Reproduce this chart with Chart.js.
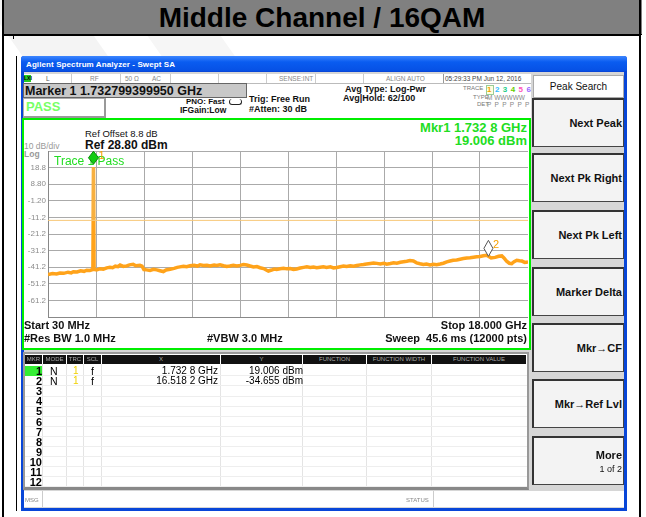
<!DOCTYPE html>
<html><head><meta charset="utf-8">
<script src="https://cdn.jsdelivr.net/npm/chart.js@4.4.0/dist/chart.umd.min.js"></script>
<style>
body{margin:0;width:646px;height:517px;overflow:hidden;background:#fff;font-family:"Liberation Sans",Arial,sans-serif;position:relative}
.a{position:absolute;white-space:nowrap}
.sk{position:absolute;left:532px;width:89px;height:46px;background:#f3f3f3;border:1px solid #444;border-top:2px solid #333;border-left:2px solid #333}
.skt{position:absolute;right:1px;font-weight:bold;font-size:11px;color:#111}
.st{position:absolute;top:75px;height:8px;font-size:6.5px;color:#888;line-height:8px}
.cell{position:absolute;font-size:10px;line-height:10px}
</style></head><body>
<!-- background watermark -->
<div class="a" style="left:40px;top:-60px;width:70px;height:260px;background:#f4f4f4;transform:rotate(-35deg)"></div>
<div class="a" style="left:150px;top:-80px;width:60px;height:220px;background:#f6f6f6;transform:rotate(-35deg)"></div>
<!-- page frame -->
<div class="a" style="left:2px;top:0;width:640px;height:34px;background:#808080;border-bottom:1px solid #000;text-align:center;font-weight:bold;font-size:28px;line-height:35px;color:#000">Middle Channel / 16QAM</div>
<div class="a" style="left:2px;top:0;width:2px;height:517px;background:#000"></div>
<div class="a" style="left:639px;top:0;width:2px;height:517px;background:#000"></div>
<div class="a" style="left:2px;top:35px;width:639px;height:1px;background:#000"></div>
<div class="a" style="left:13px;top:35px;width:1px;height:4px;background:#000"></div>
<div class="a" style="left:16px;top:56px;width:1px;height:455px;background:#000"></div>
<!-- analyzer window -->
<div class="a" style="left:21px;top:56px;width:606px;height:455px;background:#0846d8;border-radius:3px 3px 0 0"></div>
<div class="a" style="left:21px;top:56px;width:606px;height:15px;background:linear-gradient(#3d86ff,#0a5cf0 40%,#0650e4);border-radius:3px 3px 0 0"></div>
<div class="a" style="left:26px;top:60px;font-size:8px;font-weight:bold;color:#fff;letter-spacing:0.1px">Agilent Spectrum Analyzer - Swept SA</div>
<div class="a" style="left:24px;top:72px;width:600px;height:436px;background:#d6d6d6"></div>
<!-- status row -->
<div class="a" style="left:24px;top:74px;width:507px;height:9px;background:#fff;border-bottom:1px solid #bbb"></div>
<div class="a" style="left:24px;top:75px;width:7px;height:7px;background:#22cc22;font-size:5px;line-height:7px;color:#000;font-weight:bold">LXI</div>
<div class="st" style="left:46px;color:#555">L</div>
<div class="st" style="left:90px">RF</div>
<div class="st" style="left:125px">50 Ω</div>
<div class="st" style="left:152px">AC</div>
<div class="st" style="left:279px">SENSE:INT</div>
<div class="st" style="left:386px">ALIGN AUTO</div>
<div class="st" style="left:445px;color:#444">05:29:33 PM Jun 12, 2016</div>
<div class="a" style="left:71px;top:74px;width:1px;height:9px;background:#ccc"></div>
<div class="a" style="left:120px;top:74px;width:1px;height:9px;background:#ccc"></div>
<div class="a" style="left:170px;top:74px;width:1px;height:9px;background:#ccc"></div>
<div class="a" style="left:218px;top:74px;width:1px;height:9px;background:#ccc"></div>
<div class="a" style="left:266px;top:74px;width:1px;height:9px;background:#ccc"></div>
<div class="a" style="left:315px;top:74px;width:1px;height:9px;background:#ccc"></div>
<div class="a" style="left:363px;top:74px;width:1px;height:9px;background:#ccc"></div>
<div class="a" style="left:443px;top:74px;width:1px;height:9px;background:#999"></div>
<!-- info area -->
<div class="a" style="left:24px;top:84px;width:507px;height:34px;background:#fff"></div>
<div class="a" style="left:23px;top:83px;width:222px;height:13px;background:#c8c8c8;border:1px solid #666"></div>
<div class="a" style="left:25px;top:84px;font-size:12.5px;font-weight:bold;line-height:14px;color:#111">Marker 1 1.732799399950 GHz</div>
<div class="a" style="left:23px;top:98px;width:80px;height:17px;background:#fff;border:1px solid #aaa;border-right:2px solid #999;border-bottom:2px solid #999"></div>
<div class="a" style="left:26px;top:100px;font-size:13px;font-weight:bold;color:#77ff66;line-height:13px">PASS</div>
<div class="a" style="left:186px;top:97px;font-size:8px;font-weight:bold;line-height:9px;color:#111">PNO: Fast</div>
<div class="a" style="left:180px;top:106px;font-size:8.5px;font-weight:bold;line-height:9px;color:#111">IFGain:Low</div>
<div class="a" style="left:229px;top:99px;width:11px;height:5px;border:1px solid #222;border-radius:3px;border-top:none"></div>
<div class="a" style="left:249px;top:95px;font-size:9px;font-weight:bold;line-height:9px;color:#111">Trig: Free Run</div>
<div class="a" style="left:249px;top:105px;font-size:9px;font-weight:bold;line-height:9px;color:#111">#Atten: 30 dB</div>
<div class="a" style="left:345px;top:85px;font-size:9px;font-weight:bold;line-height:9px;color:#111">Avg Type: Log-Pwr</div>
<div class="a" style="left:343px;top:94px;font-size:9px;font-weight:bold;line-height:9px;color:#111">Avg|Hold: 62/100</div>
<div class="a" style="left:463px;top:85px;font-size:6px;color:#777;line-height:7px">TRACE</div>
<div class="a" style="left:473px;top:94px;font-size:6px;color:#777;line-height:7px">TYPE</div>
<div class="a" style="left:477px;top:101px;font-size:6px;color:#777;line-height:7px">DET</div>
<div class="a" style="left:486px;top:85px;width:6px;height:8px;border:1px solid #9c9;background:#ffffe0"></div>
<div class="a" style="left:487px;top:85px;font-size:8px;font-weight:bold;line-height:9px;letter-spacing:0.6px"><span style="color:#f0a000">1</span> <span style="color:#33bbff">2</span> <span style="color:#22cc88">3</span> <span style="color:#66cc00">4</span> <span style="color:#ff55bb">5</span> <span style="color:#9966ff">6</span></div>
<div class="a" style="left:487px;top:94px;font-size:6.5px;color:#888;line-height:7px">M WWWWW</div>
<div class="a" style="left:487px;top:101px;font-size:6.5px;color:#888;line-height:7px;letter-spacing:0.8px">P P P P P P</div>
<!-- plot frame -->
<div class="a" style="left:22px;top:118px;width:505px;height:228px;background:#fff;border:2px solid #00ee00"></div>
<div class="a" style="left:85px;top:129px;font-size:9.5px;color:#111;line-height:10px">Ref Offset 8.8 dB</div>
<div class="a" style="left:85px;top:139px;font-size:12px;font-weight:bold;color:#111;line-height:12px">Ref 28.80 dBm</div>
<div class="a" style="left:24px;top:142px;font-size:8.5px;color:#999;line-height:9px">10 dB/div</div>
<div class="a" style="left:24px;top:150px;font-size:8.5px;color:#999;font-weight:bold;line-height:9px">Log</div>
<div class="a" style="right:119px;top:121px;font-size:13px;font-weight:bold;color:#22dd22;line-height:13px;text-align:right">Mkr1 1.732 8 GHz</div>
<div class="a" style="right:119px;top:134px;font-size:13px;font-weight:bold;color:#22dd22;line-height:13px;text-align:right">19.006 dBm</div>
<canvas id="c" class="a" style="left:20px;top:141px" width="508" height="186"></canvas>
<div class="a" style="left:24px;top:320px;font-size:11px;font-weight:bold;line-height:11px;color:#111">Start 30 MHz</div>
<div class="a" style="right:119px;top:320px;font-size:11px;font-weight:bold;line-height:11px;color:#111">Stop 18.000 GHz</div>
<div class="a" style="left:24px;top:333px;font-size:11px;font-weight:bold;line-height:11px;color:#111">#Res BW 1.0 MHz</div>
<div class="a" style="left:207px;top:333px;font-size:11px;font-weight:bold;line-height:11px;color:#111">#VBW 3.0 MHz</div>
<div class="a" style="right:119px;top:333px;font-size:11px;font-weight:bold;line-height:11px;color:#111">Sweep&nbsp; 45.6 ms (12000 pts)</div>
<!-- marker table -->
<div id="tbl" class="a" style="left:23px;top:352px;width:502px;height:133px;background:#fff;border:2px solid #999;border-bottom:3px solid #888"></div>
<!-- msg bar -->
<div class="a" style="left:24px;top:491px;width:600px;height:16px;background:#fff"></div>
<div class="a" style="left:25px;top:497px;font-size:6px;color:#888">MSG</div>
<div class="a" style="left:42px;top:491px;width:1px;height:16px;background:#ccc"></div>
<div class="a" style="left:406px;top:497px;font-size:6px;color:#888">STATUS</div>
<div class="a" style="left:433px;top:491px;width:1px;height:16px;background:#ccc"></div>
<!-- softkeys -->
<div class="a" style="left:533px;top:75px;width:89px;height:21px;background:#fff;border:1px solid #aaa;text-align:center;font-size:10px;line-height:21px;color:#111">Peak Search</div>
<div id="keys"></div>
<script>
// ---- data ----
const traceFreqGHz = [0.03,0.20,0.35,0.48,0.62,0.78,0.90,0.98,1.12,1.25,1.38,1.48,1.60,1.71,1.7328,1.755,1.85,1.98,2.10,2.23,2.35,2.45,2.55,2.65,2.73,2.85,2.98,3.08,3.22,3.32,3.47,3.55,3.62,3.72,3.85,3.98,4.10,4.22,4.35,4.45,4.60,4.75,4.87,4.97,5.10,5.22,5.35,5.50,5.62,5.72,5.85,5.98,6.10,6.25,6.35,6.47,6.60,6.72,6.84,6.97,7.10,7.22,7.35,7.47,7.60,7.72,7.85,7.97,8.10,8.20,8.28,8.40,8.50,8.59,8.72,8.85,8.97,9.10,9.22,9.34,9.47,9.60,9.72,9.85,9.97,10.09,10.22,10.34,10.46,10.60,10.72,10.84,10.97,11.09,11.21,11.35,11.47,11.59,11.72,11.84,11.96,12.10,12.22,12.34,12.47,12.60,12.71,12.85,12.97,13.09,13.22,13.34,13.46,13.58,13.71,13.83,13.96,14.08,14.20,14.33,14.46,14.58,14.71,14.83,14.96,15.08,15.20,15.33,15.46,15.58,15.71,15.83,15.96,16.08,16.21,16.33,16.45,16.518,16.62,16.77,16.90,17.02,17.10,17.20,17.30,17.39,17.48,17.58,17.68,17.77,17.88,18.00];
const traceLevelDbm = [-45.6,-45.0,-45.3,-44.7,-44.9,-44.2,-44.6,-43.9,-44.1,-43.4,-43.7,-43.0,-43.2,-42.6,19.006,-42.5,-42.8,-42.1,-42.4,-41.6,-41.2,-41.5,-40.6,-40.9,-39.9,-40.7,-40.4,-39.8,-39.5,-40.3,-40.0,-40.6,-42.6,-42.8,-43.2,-42.5,-42.8,-43.3,-43.8,-42.9,-42.4,-41.9,-41.3,-41.0,-40.6,-40.9,-40.3,-40.0,-40.5,-39.8,-40.2,-40.0,-40.4,-39.9,-40.1,-39.7,-40.3,-40.8,-40.5,-40.0,-40.4,-40.1,-39.6,-39.9,-40.5,-41.0,-40.8,-41.5,-42.0,-42.9,-43.5,-42.9,-42.3,-42.6,-42.1,-41.9,-42.2,-42.0,-42.6,-42.3,-41.7,-41.3,-41.0,-41.4,-41.1,-41.5,-41.2,-40.9,-41.3,-41.0,-41.6,-41.4,-40.9,-40.5,-40.8,-40.3,-40.6,-40.2,-39.8,-39.6,-39.3,-39.0,-38.7,-38.9,-39.3,-38.8,-39.4,-39.0,-38.5,-38.8,-38.2,-37.9,-37.6,-37.2,-37.5,-38.6,-39.1,-39.5,-39.3,-39.8,-39.4,-39.7,-39.3,-38.8,-38.0,-37.5,-37.0,-36.8,-36.4,-36.0,-35.7,-35.5,-35.2,-34.9,-34.7,-34.3,-34.0,-34.655,-35.6,-35.3,-34.6,-34.4,-35.6,-37.6,-38.8,-39.0,-37.9,-37.0,-37.3,-37.5,-38.3,-38.0];
const spikeFreqGHz = [1.7328, 1.7328];
const spikeLevelDbm = [-13.0, 19.006];
const limitFreqGHz = [0.03, 18.0];
const limitLevelDbm = [-13.0, -13.0];
const markerNames = ["1", "2"];
const markerFreqGHz = [1.7328, 16.5182];
const markerLevelDbm = [19.006, -34.655];
const xGridGHz = [0.03,1.827,3.624,5.421,7.218,9.015,10.812,12.609,14.406,16.203,18.0];
const yGridDbm = [-71.2,-61.2,-51.2,-41.2,-31.2,-21.2,-11.2,-1.2,8.8,18.8,28.8];
const yTickLabels = ["","-61.2","-51.2","-41.2","-31.2","-21.2","-11.2","-1.20","8.80","18.8",""];
const tableX = ["1.732 8 GHz","16.518 2 GHz"];
const tableY = ["19.006 dBm","-34.655 dBm"];
const softkeys = [["Next Peak",""],["Next Pk Right",""],["Next Pk Left",""],["Marker Delta",""],["Mkr\u2192CF",""],["Mkr\u2192Ref Lvl",""],["More","1 of 2"]];

// ---- table ----
const tbl = document.getElementById('tbl');
const cols = [[0,18,"MKR"],[18,24,"MODE"],[42,17,"TRC"],[59,18,"SCL"],[77,119,"X"],[196,82,"Y"],[278,64,"FUNCTION"],[342,65,"FUNCTION WIDTH"],[407,95,"FUNCTION VALUE"]];
let h = '';
cols.forEach(c => {
  h += `<div class="a" style="left:${c[0]}px;top:1px;width:${c[1]-1}px;height:9px;background:#111;color:#aaa;font-size:6px;line-height:9px;text-align:center">${c[2]}</div>`;
  if (c[0] > 0) h += `<div class="a" style="left:${c[0]-1}px;top:10px;width:1px;height:123px;background:#e4e4e4"></div>`;
});
for (let i = 0; i < 12; i++) {
  const top = 12 + i * 10.1;
  h += `<div class="a" style="left:0;top:${top+9.3}px;width:502px;height:1px;background:#eee"></div>`;
  const bg = i === 0 ? 'background:#33ee33;' : '';
  h += `<div class="cell a" style="left:0;top:${top}px;width:17px;text-align:right;font-weight:bold;font-size:11px;${bg}">${i+1}</div>`;
  if (i < 2) {
    h += `<div class="cell a" style="left:25px;top:${top}px;font-size:10.5px">N</div>`;
    h += `<div class="cell a" style="left:48px;top:${top}px;color:#f0d000">1</div>`;
    h += `<div class="cell a" style="left:66px;top:${top}px;font-size:10.5px">f</div>`;
    h += `<div class="cell a" style="left:77px;width:116px;top:${top}px;text-align:right">${tableX[i]}</div>`;
    h += `<div class="cell a" style="left:196px;width:82px;top:${top}px;text-align:right">${tableY[i]}</div>`;
  }
}
tbl.innerHTML = h;

// ---- softkeys ----
const tops = [98,153,210,267,323,379,436];
let k = '';
softkeys.forEach((s, i) => {
  k += `<div class="sk" style="top:${tops[i]}px">`;
  if (s[1]) {
    k += `<div class="skt" style="top:11px">${s[0]}</div><div class="skt" style="top:26px;font-weight:normal;font-size:9px">${s[1]}</div>`;
  } else {
    k += `<div class="skt" style="top:17px">${s[0]}</div>`;
  }
  k += `</div>`;
});
document.getElementById('keys').innerHTML = k;

// ---- chart ----
const pts = (xs, ys) => xs.map((v, i) => ({x: v, y: ys[i]}));
const markerPlugin = {
  id: 'markers',
  beforeDatasetsDraw(chart) {
    const ctx = chart.ctx;
    ctx.save();
    ctx.font = '12px "Liberation Sans", Arial';
    ctx.fillStyle = '#22dd22';
    ctx.textBaseline = 'top';
    ctx.fillText('Trace 1 Pass', chart.chartArea.left + 6, chart.chartArea.top + 5);
    ctx.restore();
  },
  afterDatasetsDraw(chart) {
    const {ctx, scales: {x, y}} = chart;
    ctx.save();
    markerFreqGHz.forEach((f, i) => {
      const px = x.getPixelForValue(f), py = y.getPixelForValue(markerLevelDbm[i]);
      const w = i === 0 ? 5 : 4.5, hh = i === 0 ? 6.5 : 8;
      const by = i === 0 ? py - 3 : py;
      ctx.beginPath();
      ctx.moveTo(px, by); ctx.lineTo(px + w, by - hh); ctx.lineTo(px, by - 2 * hh); ctx.lineTo(px - w, by - hh); ctx.closePath();
      ctx.fillStyle = i === 0 ? '#11cc11' : '#ffffff';
      ctx.fill();
      ctx.lineWidth = 1;
      ctx.strokeStyle = i === 0 ? '#0a8a0a' : '#555';
      ctx.stroke();
      ctx.fillStyle = '#f5a000';
      ctx.font = '11px "Liberation Sans", Arial';
      ctx.textBaseline = 'top';
      ctx.fillText(markerNames[i], px + w, by - 2 * hh - 1);
    });
    ctx.restore();
  }
};

new Chart(document.getElementById('c'), {
  type: 'line',
  data: {
    datasets: [
      {data: pts(limitFreqGHz, limitLevelDbm), borderColor: '#f7c878', borderWidth: 1, pointRadius: 0},
      {data: pts(spikeFreqGHz, spikeLevelDbm), borderColor: '#f7b040', borderWidth: 3, pointRadius: 0},
      {data: pts(traceFreqGHz, traceLevelDbm), borderColor: '#ffa31a', borderWidth: 3.5, pointRadius: 0, tension: 0}
    ]
  },
  options: {
    responsive: false, animation: false, devicePixelRatio: 1,
    layout: {padding: {top: 10, bottom: 10, left: 0, right: 0}},
    plugins: {legend: {display: false}, tooltip: {enabled: false}},
    scales: {
      x: {
        type: 'linear', min: 0.03, max: 18.0,
        afterBuildTicks: a => { a.ticks = xGridGHz.map(v => ({value: v})); },
        ticks: {display: false},
        grid: {color: '#aaaaaa', drawTicks: false},
        border: {color: '#888888'}
      },
      y: {
        type: 'linear', min: -71.2, max: 28.8,
        afterBuildTicks: a => { a.ticks = yGridDbm.map(v => ({value: v})); },
        afterFit: a => { a.width = 28; },
        ticks: {autoSkip: false, padding: 2, color: '#8c8c8c', font: {size: 8, family: '"Liberation Sans", Arial'}, callback: (v, i) => yTickLabels[i]},
        grid: {color: '#aaaaaa', drawTicks: false},
        border: {color: '#888888'}
      }
    }
  },
  plugins: [markerPlugin]
});
</script>
</body></html>
